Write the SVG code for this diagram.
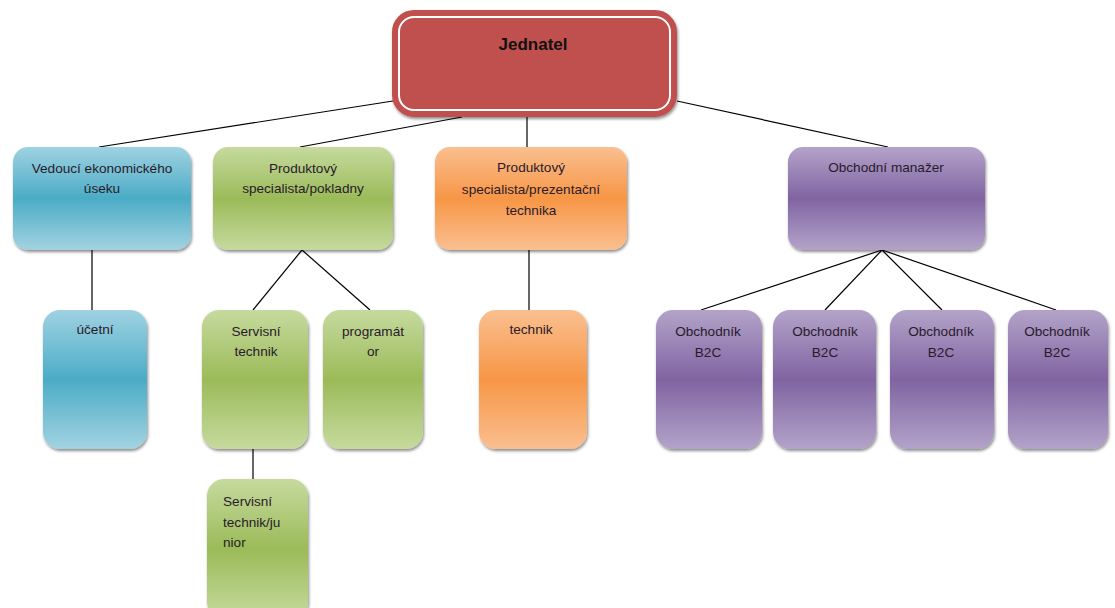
<svg xmlns="http://www.w3.org/2000/svg" width="1115" height="608" viewBox="0 0 1115 608">
<style>
.t{font-family:"Liberation Sans",Arial,sans-serif;font-size:13.6px;fill:#2a1a2a;text-anchor:middle}
.tl{text-anchor:start}
.c{stroke:#000;stroke-width:1.2;fill:none}
</style>
<defs>
<filter id="sh" x="-10%" y="-10%" width="125%" height="125%"><feDropShadow dx="1" dy="2" stdDeviation="1.4" flood-color="#000" flood-opacity="0.45"/></filter>
<linearGradient id="gb" x1="0" y1="0" x2="0" y2="1"><stop offset="0" stop-color="#9FD2E2"/><stop offset="0.5" stop-color="#4BACC6"/><stop offset="1" stop-color="#A2D3E1"/></linearGradient>
<linearGradient id="gg" x1="0" y1="0" x2="0" y2="1"><stop offset="0" stop-color="#C6DA9E"/><stop offset="0.5" stop-color="#9BBB59"/><stop offset="1" stop-color="#C6DA9E"/></linearGradient>
<linearGradient id="go" x1="0" y1="0" x2="0" y2="1"><stop offset="0" stop-color="#FABF90"/><stop offset="0.5" stop-color="#F79646"/><stop offset="1" stop-color="#FABF90"/></linearGradient>
<linearGradient id="gp" x1="0" y1="0" x2="0" y2="1"><stop offset="0" stop-color="#B3A3C9"/><stop offset="0.5" stop-color="#8064A2"/><stop offset="1" stop-color="#B3A3C9"/></linearGradient>
</defs>
<rect width="1115" height="608" fill="#fff"/>
<g id="connectors">
<line class="c" x1="393" y1="101" x2="99" y2="147"/>
<line class="c" x1="462" y1="117" x2="300" y2="147"/>
<line class="c" x1="527" y1="117" x2="527" y2="147"/>
<line class="c" x1="677" y1="101" x2="888" y2="147"/>
<line class="c" x1="92" y1="250" x2="92" y2="310"/>
<line class="c" x1="302" y1="250" x2="253" y2="310"/>
<line class="c" x1="302" y1="250" x2="370" y2="310"/>
<line class="c" x1="253" y1="449" x2="253" y2="480"/>
<line class="c" x1="529" y1="250" x2="529" y2="310"/>
<line class="c" x1="882" y1="250" x2="701" y2="310"/>
<line class="c" x1="882" y1="250" x2="825" y2="310"/>
<line class="c" x1="882" y1="250" x2="942" y2="310"/>
<line class="c" x1="882" y1="250" x2="1056" y2="310"/>
</g>
<g id="jednatel">
<rect x="394" y="12" width="281" height="103" rx="20" fill="#C0504D" stroke="#C0504D" stroke-width="4" filter="url(#sh)"/>
<rect x="399" y="17" width="271" height="93" rx="15" fill="#C0504D" stroke="#fff" stroke-width="2"/>
<text x="533" y="50" class="t" style="font-weight:bold;font-size:17px;fill:#111">Jednatel</text>
</g>
<g id="vedouci">
<rect x="13" y="147" width="178" height="103" rx="15" fill="url(#gb)" filter="url(#sh)"/>
<text class="t" x="102" y="173">Vedoucí ekonomického</text>
<text class="t" x="102" y="193">úseku</text>
</g>
<g id="pokladny">
<rect x="213" y="147" width="180" height="103" rx="15" fill="url(#gg)" filter="url(#sh)"/>
<text class="t" x="303" y="173">Produktový</text>
<text class="t" x="303" y="193">specialista/pokladny</text>
</g>
<g id="prezentacni">
<rect x="435" y="147" width="192" height="103" rx="15" fill="url(#go)" filter="url(#sh)"/>
<text class="t" x="531" y="172">Produktový</text>
<text class="t" x="531" y="194">specialista/prezentační</text>
<text class="t" x="531" y="215">technika</text>
</g>
<g id="manazer">
<rect x="788" y="147" width="197" height="103" rx="15" fill="url(#gp)" filter="url(#sh)"/>
<text class="t" x="886" y="172">Obchodní manažer</text>
</g>
<g id="ucetni">
<rect x="43" y="310" width="104" height="139" rx="17" fill="url(#gb)" filter="url(#sh)"/>
<text class="t" x="95" y="334">účetní</text>
</g>
<g id="servisni">
<rect x="202" y="310" width="106" height="139" rx="17" fill="url(#gg)" filter="url(#sh)"/>
<text class="t" x="256" y="336">Servisní</text>
<text class="t" x="256" y="356">technik</text>
</g>
<g id="programator">
<rect x="323" y="310" width="100" height="139" rx="17" fill="url(#gg)" filter="url(#sh)"/>
<text class="t" x="373" y="336">programát</text>
<text class="t" x="373" y="356">or</text>
</g>
<g id="junior">
<rect x="207" y="479" width="101" height="140" rx="17" fill="url(#gg)" filter="url(#sh)"/>
<text class="t tl" x="223" y="506">Servisní</text>
<text class="t tl" x="223" y="527">technik/ju</text>
<text class="t tl" x="223" y="547">nior</text>
</g>
<g id="technik">
<rect x="479" y="310" width="108" height="139" rx="17" fill="url(#go)" filter="url(#sh)"/>
<text class="t" x="531" y="334">technik</text>
</g>
<g id="obchodnik1">
<rect x="656" y="310" width="106" height="139" rx="17" fill="url(#gp)" filter="url(#sh)"/>
<text class="t" x="708" y="336">Obchodník</text>
<text class="t" x="708" y="357">B2C</text>
</g>
<g id="obchodnik2">
<rect x="773" y="310" width="103" height="139" rx="17" fill="url(#gp)" filter="url(#sh)"/>
<text class="t" x="825" y="336">Obchodník</text>
<text class="t" x="825" y="357">B2C</text>
</g>
<g id="obchodnik3">
<rect x="890" y="310" width="104" height="139" rx="17" fill="url(#gp)" filter="url(#sh)"/>
<text class="t" x="941" y="336">Obchodník</text>
<text class="t" x="941" y="357">B2C</text>
</g>
<g id="obchodnik4">
<rect x="1008" y="310" width="100" height="139" rx="17" fill="url(#gp)" filter="url(#sh)"/>
<text class="t" x="1057" y="336">Obchodník</text>
<text class="t" x="1057" y="357">B2C</text>
</g>
</svg>
